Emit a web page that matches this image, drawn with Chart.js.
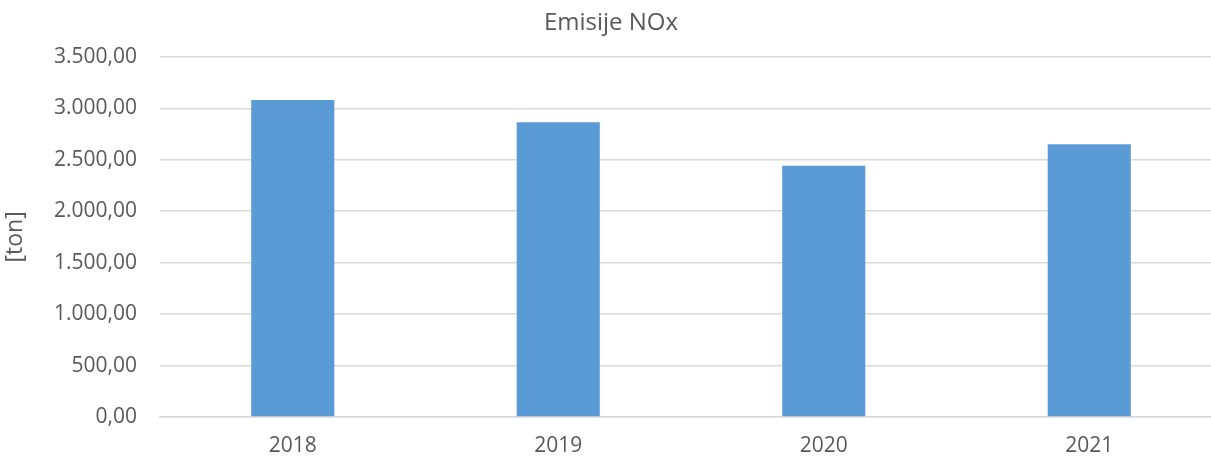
<!DOCTYPE html>
<html>
<head>
<meta charset="utf-8">
<script src="https://cdn.jsdelivr.net/npm/chart.js@4.4.1/dist/chart.umd.min.js"></script>
<style>
  html, body { margin: 0; padding: 0; background: #fff; overflow: hidden; }
  #wrap { width: 1222px; height: 457px; position: relative; }
</style>
</head>
<body>
<div id="wrap"><canvas id="myChart"></canvas></div>
<script>
const years = ["2018", "2019", "2020", "2021"];
const noxValues = [3080, 2863, 2442, 2650];
const chartTitle = "Emisije NOx";
const axisTitle = "[ton]";

const textColor = "#595959";
const fontFamily = "'Open Sans', 'Liberation Sans', sans-serif";

// 3500 -> "3.500,00"
function formatNum(v) {
    var parts = Number(v).toFixed(2).split(".");
    var intPart = parts[0].replace(/\B(?=(\d{3})+(?!\d))/g, ".");
    return intPart + "," + parts[1];
}

Chart.defaults.font.family = fontFamily;
Chart.defaults.color = textColor;

const data = {
    labels: years,
    datasets: [
      {
        label: chartTitle,
        backgroundColor: "#5B9BD5",
        borderWidth: 0,
        data: noxValues,
        categoryPercentage: 1,
        barPercentage: 0.313,
      },
    ],
};

const config = {
    type: "bar",
    data,
    options: {
        responsive: true,
        maintainAspectRatio: false,
        animation: false,
        layout: { padding: 0 },
        plugins: {
            legend: { display: false },
            tooltip: { enabled: false },
            title: {
                display: true,
                text: chartTitle,
                color: textColor,
                font: { size: 24, weight: "normal" },
                padding: { top: 9, bottom: 19 },
            },
        },
        scales: {
            x: {
                grid: { display: false, drawTicks: false },
                border: { display: true, color: "#D9D9D9", width: 1.5 },
                ticks: { padding: 16, color: textColor, font: { size: 21 } },
                afterFit: function (scale) { scale.height = 40; },
            },
            y: {
                min: 0,
                max: 3500,
                grid: { color: "#D9D9D9", lineWidth: 1.5, drawTicks: false },
                border: { display: false },
                ticks: {
                    stepSize: 500,
                    padding: 23,
                    color: textColor,
                    font: { size: 21 },
                    callback: function (v) { return formatNum(v); },
                },
                title: {
                    display: true,
                    text: axisTitle,
                    color: textColor,
                    font: { size: 23 },
                    padding: { top: 2, bottom: 0 },
                },
                afterFit: function (scale) { scale.width = 160; },
            },
        },
    },
};

var myChart = new Chart(document.getElementById("myChart"), config);
</script>
</body>
</html>
